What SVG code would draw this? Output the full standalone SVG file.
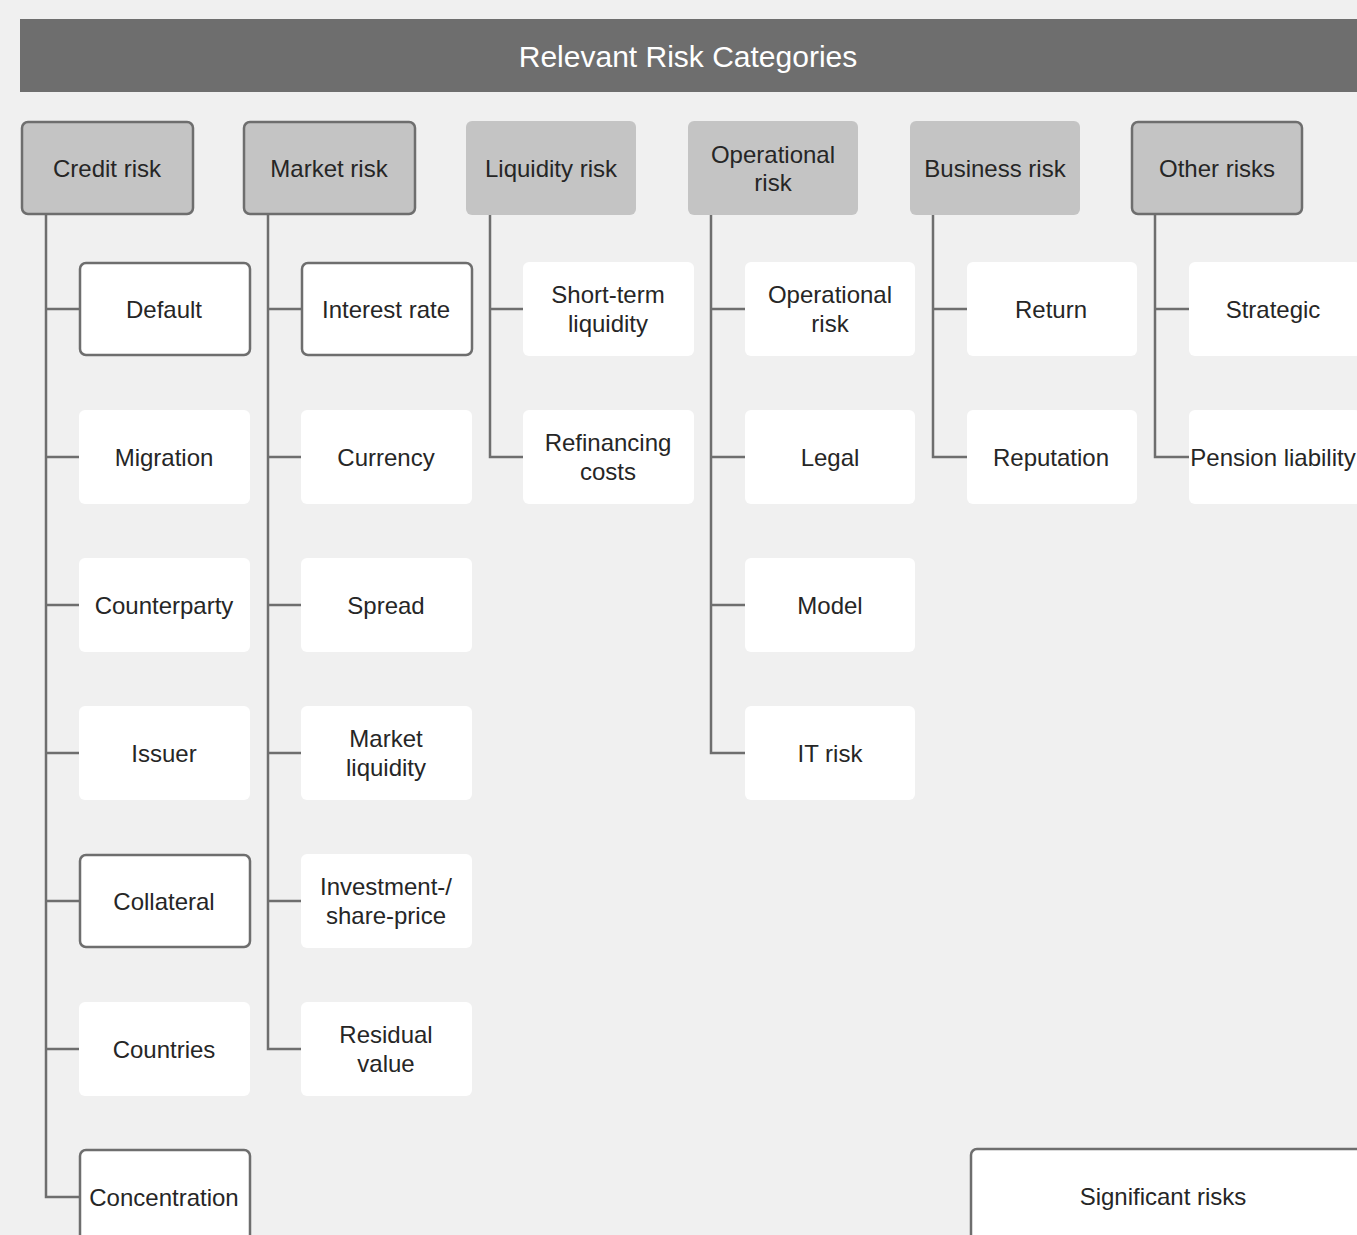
<svg xmlns="http://www.w3.org/2000/svg" width="1357" height="1235" viewBox="0 0 1357 1235">
<style>
text{font-family:"Liberation Sans",Arial,sans-serif;font-size:24px;fill:#262626;text-anchor:middle}
.title{fill:#ffffff;font-size:30px}
.p{fill:#c4c4c4}
.c{fill:#ffffff}
.b{stroke:#6e6e6e;stroke-width:2.5}
.con path{fill:none;stroke:#6e6e6e;stroke-width:2.5}
</style>
<rect width="1357" height="1235" fill="#f0f0f0"/>
<g id="header"><rect x="20" y="19" width="1340" height="73" fill="#6e6e6e"/><text class="title" x="688" y="67">Relevant Risk Categories</text></g>
<g class="con" id="connectors">
<path d="M46 215V1197H79M46 309H79M46 457H79M46 605H79M46 753H79M46 901H79M46 1049H79"/>
<path d="M268 215V1049H301M268 309H301M268 457H301M268 605H301M268 753H301M268 901H301"/>
<path d="M490 215V457H523M490 309H523"/>
<path d="M711 215V753H745M711 309H745M711 457H745M711 605H745"/>
<path d="M933 215V457H967M933 309H967"/>
<path d="M1155 215V457H1189M1155 309H1189"/>
</g>
<g id="credit"><rect class="p b" x="22" y="122" width="171" height="92" rx="6"/><text x="107" y="177">Credit risk</text></g>
<g id="market"><rect class="p b" x="244" y="122" width="171" height="92" rx="6"/><text x="329" y="177">Market risk</text></g>
<g id="liquidity"><rect class="p" x="466" y="121" width="170" height="94" rx="6"/><text x="551" y="177">Liquidity risk</text></g>
<g id="operational"><rect class="p" x="688" y="121" width="170" height="94" rx="6"/><text x="773" y="163">Operational</text><text x="773" y="191">risk</text></g>
<g id="business"><rect class="p" x="910" y="121" width="170" height="94" rx="6"/><text x="995" y="177">Business risk</text></g>
<g id="other"><rect class="p b" x="1132" y="122" width="170" height="92" rx="6"/><text x="1217" y="177">Other risks</text></g>

<g id="default"><rect class="c b" x="80" y="263" width="170" height="92" rx="6"/><text x="164" y="318">Default</text></g>
<g id="migration"><rect class="c" x="79" y="410" width="171" height="94" rx="6"/><text x="164" y="466">Migration</text></g>
<g id="counterparty"><rect class="c" x="79" y="558" width="171" height="94" rx="6"/><text x="164" y="614">Counterparty</text></g>
<g id="issuer"><rect class="c" x="79" y="706" width="171" height="94" rx="6"/><text x="164" y="762">Issuer</text></g>
<g id="collateral"><rect class="c b" x="80" y="855" width="170" height="92" rx="6"/><text x="164" y="910">Collateral</text></g>
<g id="countries"><rect class="c" x="79" y="1002" width="171" height="94" rx="6"/><text x="164" y="1058">Countries</text></g>
<g id="concentration"><rect class="c b" x="80" y="1150" width="170" height="100" rx="6"/><text x="164" y="1206">Concentration</text></g>

<g id="interest"><rect class="c b" x="302" y="263" width="170" height="92" rx="6"/><text x="386" y="318">Interest rate</text></g>
<g id="currency"><rect class="c" x="301" y="410" width="171" height="94" rx="6"/><text x="386" y="466">Currency</text></g>
<g id="spread"><rect class="c" x="301" y="558" width="171" height="94" rx="6"/><text x="386" y="614">Spread</text></g>
<g id="mliquidity"><rect class="c" x="301" y="706" width="171" height="94" rx="6"/><text x="386" y="747">Market</text><text x="386" y="776">liquidity</text></g>
<g id="investment"><rect class="c" x="301" y="854" width="171" height="94" rx="6"/><text x="386" y="895">Investment-/</text><text x="386" y="924">share-price</text></g>
<g id="residual"><rect class="c" x="301" y="1002" width="171" height="94" rx="6"/><text x="386" y="1043">Residual</text><text x="386" y="1072">value</text></g>

<g id="shortterm"><rect class="c" x="523" y="262" width="171" height="94" rx="6"/><text x="608" y="303">Short-term</text><text x="608" y="332">liquidity</text></g>
<g id="refinancing"><rect class="c" x="523" y="410" width="171" height="94" rx="6"/><text x="608" y="451">Refinancing</text><text x="608" y="480">costs</text></g>

<g id="oprisk"><rect class="c" x="745" y="262" width="170" height="94" rx="6"/><text x="830" y="303">Operational</text><text x="830" y="332">risk</text></g>
<g id="legal"><rect class="c" x="745" y="410" width="170" height="94" rx="6"/><text x="830" y="466">Legal</text></g>
<g id="model"><rect class="c" x="745" y="558" width="170" height="94" rx="6"/><text x="830" y="614">Model</text></g>
<g id="itrisk"><rect class="c" x="745" y="706" width="170" height="94" rx="6"/><text x="830" y="762">IT risk</text></g>

<g id="return"><rect class="c" x="967" y="262" width="170" height="94" rx="6"/><text x="1051" y="318">Return</text></g>
<g id="reputation"><rect class="c" x="967" y="410" width="170" height="94" rx="6"/><text x="1051" y="466">Reputation</text></g>

<g id="strategic"><rect class="c" x="1189" y="262" width="172" height="94" rx="6"/><text x="1273" y="318">Strategic</text></g>
<g id="pension"><rect class="c" x="1189" y="410" width="172" height="94" rx="6"/><text x="1273" y="466">Pension liability</text></g>

<g id="legend"><rect class="c b" x="971" y="1149" width="400" height="100" rx="6"/><text x="1163" y="1205">Significant risks</text></g>
</svg>
